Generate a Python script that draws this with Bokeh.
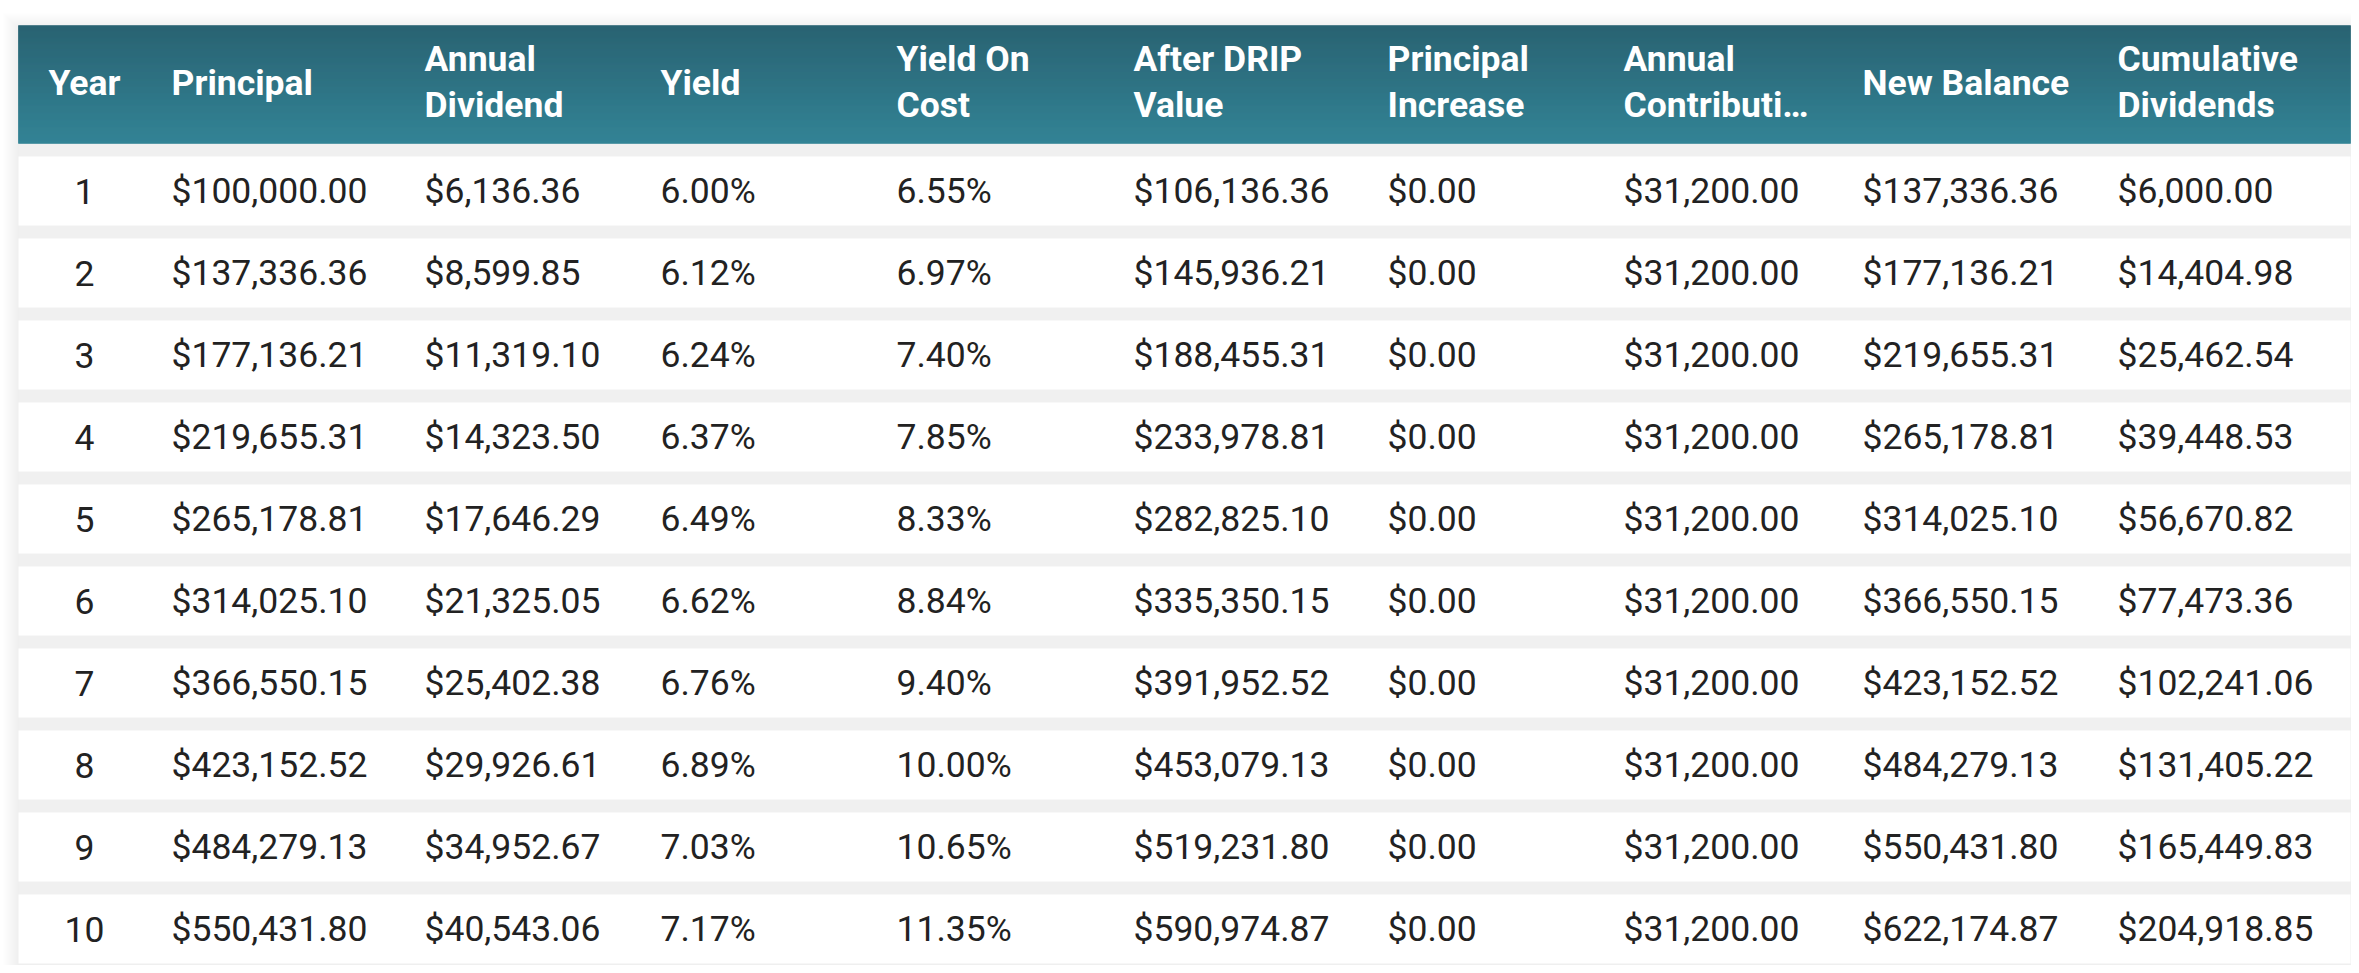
import numpy as np
from bokeh.plotting import figure
from bokeh.models import Range1d
from bokeh.core.properties import value
from bokeh.embed import file_html
from bokeh.resources import INLINE

# ---------------- data ----------------
headers = [["Year"], ["Principal"], ["Annual", "Dividend"], ["Yield"],
           ["Yield On", "Cost"], ["After DRIP", "Value"], ["Principal", "Increase"],
           ["Annual", "Contributi…"], ["New Balance"], ["Cumulative", "Dividends"]]

years = [1, 2, 3, 4, 5, 6, 7, 8, 9, 10]
principal = [100000.00, 137336.36, 177136.21, 219655.31, 265178.81,
             314025.10, 366550.15, 423152.52, 484279.13, 550431.80]
annual_dividend = [6136.36, 8599.85, 11319.10, 14323.50, 17646.29,
                   21325.05, 25402.38, 29926.61, 34952.67, 40543.06]
yield_pct = [6.00, 6.12, 6.24, 6.37, 6.49, 6.62, 6.76, 6.89, 7.03, 7.17]
yield_on_cost = [6.55, 6.97, 7.40, 7.85, 8.33, 8.84, 9.40, 10.00, 10.65, 11.35]
after_drip = [106136.36, 145936.21, 188455.31, 233978.81, 282825.10,
              335350.15, 391952.52, 453079.13, 519231.80, 590974.87]
principal_increase = [0.00] * 10
annual_contribution = [31200.00] * 10
new_balance = [137336.36, 177136.21, 219655.31, 265178.81, 314025.10,
               366550.15, 423152.52, 484279.13, 550431.80, 622174.87]
cumulative_dividends = [6000.00, 14404.98, 25462.54, 39448.53, 56670.82,
                        77473.36, 102241.06, 131405.22, 165449.83, 204918.85]

# ---------------- layout (page pixel coords) ----------------
W, H = 2351, 965
OFF = 0
TL, TR = 18, 2350          # table left / right
HT, HB = 25, 143           # header top / bottom
ROW0, PITCH, ROWH = 156, 82, 69
col_x = [84, 171, 424, 660, 896, 1133, 1387, 1623, 1862, 2117]
FONT = "Roboto"
FS = "35.5px"


def money(v):
    return "${:,.2f}".format(v)


def pct(v):
    return "{:.2f}%".format(v)


columns = [
    [str(y) for y in years],
    [money(v) for v in principal],
    [money(v) for v in annual_dividend],
    [pct(v) for v in yield_pct],
    [pct(v) for v in yield_on_cost],
    [money(v) for v in after_drip],
    [money(v) for v in principal_increase],
    [money(v) for v in annual_contribution],
    [money(v) for v in new_balance],
    [money(v) for v in cumulative_dividends],
]

p = figure(width=W, height=H, output_backend="svg", toolbar_location=None,
           x_range=Range1d(0, W), y_range=Range1d(H, 0),
           x_axis_location=None, y_axis_location=None, min_border=0,
           background_fill_color="white", border_fill_color="white")
p.outline_line_color = None
p.grid.visible = False


def px(x):
    return x - OFF


# soft shadow around the table
for d in range(1, 17):
    p.quad(left=px(TL - d), right=px(TR + d), top=px(HT - d + 3), bottom=px(962 + d + 3),
           fill_color="black", fill_alpha=0.0035, line_color=None)

# body background (gaps)
p.quad(left=px(TL), right=px(TR), top=px(HB), bottom=px(962),
       fill_color="#f0f0f0", line_color=None)

# header gradient
c0 = np.array([0x1c, 0x5a, 0x6a], dtype=float)
c1 = np.array([0x27, 0x7c, 0x8f], dtype=float)
n = HB - HT
tops, bots, cols = [], [], []
for k in range(n):
    t = k / (n - 1)
    c = (c0 * (1 - t) + c1 * t).round().astype(int)
    tops.append(px(HT + k))
    bots.append(px(HT + k + 1))
    cols.append("#%02x%02x%02x" % tuple(c))
p.quad(left=px(TL), right=px(TR), top=tops, bottom=bots, fill_color=cols, line_color=cols,
       line_width=0.5)

# white rows
nrows = len(years)
row_tops = [ROW0 + PITCH * i for i in range(nrows)]
p.quad(left=px(TL), right=px(TR), top=[px(t) for t in row_tops],
       bottom=[px(t + ROWH) for t in row_tops], fill_color="white", line_color=None)

# header text
hx, hy, ht, ha = [], [], [], []
for j, lines in enumerate(headers):
    if len(lines) == 1:
        ys = [82]
    else:
        ys = [58, 104]
    for line, yy in zip(lines, ys):
        hx.append(px(col_x[j]))
        hy.append(px(yy))
        ht.append(line)
        ha.append("center" if j == 0 else "left")
p.text(x=hx, y=hy, text=ht, text_align=ha, text_baseline="middle",
       text_font=value(FONT), text_font_size=value(FS), text_font_style="bold",
       text_color="white")

# cell text
cx, cy, ct, ca = [], [], [], []
for j, col in enumerate(columns):
    for i, s in enumerate(col):
        cx.append(px(col_x[j]))
        cy.append(px(row_tops[i] + ROWH / 2))
        ct.append(s)
        ca.append("center" if j == 0 else "left")
p.text(x=cx, y=cy, text=ct, text_align=ca, text_baseline="middle",
       text_font=value(FONT), text_font_size=value(FS), text_color="#222222")

open("out.html", "w").write(file_html(p, INLINE))
